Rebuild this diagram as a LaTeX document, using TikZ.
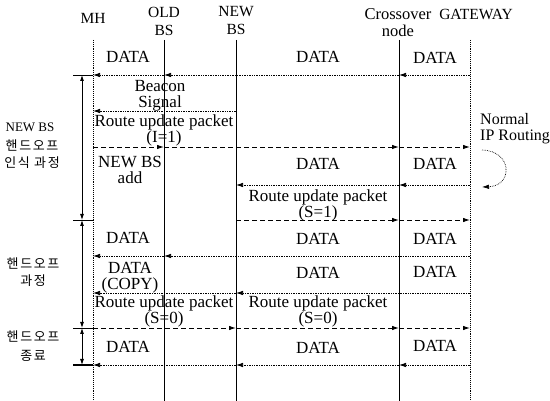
\documentclass[tikz,border=0pt]{standalone}
\usepackage{fontspec}
\setmainfont{Liberation Serif}
\newfontfamily\krfont[LetterSpace=12]{Noto Sans CJK KR}
\usetikzlibrary{arrows.meta}
\begin{document}
\begin{tikzpicture}[x=1pt,y=-1pt,
  lifeline/.style={line width=0.9pt},
  dotline/.style={line width=0.9pt, densely dotted},
  datamsg/.style={line width=0.7pt, densely dotted},
  routemsg/.style={line width=0.9pt, dash pattern=on 5pt off 3pt},
  arr/.style={-{Latex[length=7pt,width=4.5pt]}},
  axisline/.style={line width=0.8pt, {Latex[length=6pt,width=4pt]}-{Latex[length=6pt,width=4pt]}},
  tick/.style={line width=0.8pt},
  hdr/.style={align=center, inner sep=0pt, font=\fontsize{15.5}{18}\selectfont},
  lbl/.style={align=center, inner sep=0pt, font=\fontsize{17}{16}\selectfont},
  side/.style={inner sep=0pt, font=\fontsize{13}{15}\selectfont}]
\useasboundingbox (0,0) rectangle (550,401);

% lifeline heads and the bottom edge
\coordinate (mh)  at (93,40);
\coordinate (obs) at (164,40);
\coordinate (nbs) at (236,40);
\coordinate (cx)  at (399,40);
\coordinate (gw)  at (470,40);
\coordinate (bot) at (0,401);

% message rows
\coordinate (r1) at (0,75);
\coordinate (r2) at (0,111);
\coordinate (r3) at (0,147);
\coordinate (r4) at (0,185);
\coordinate (r5) at (0,220);
\coordinate (r6) at (0,256);
\coordinate (r7) at (0,293);
\coordinate (r8) at (0,328);
\coordinate (r9) at (0,365);

% phase axis
\coordinate (ax) at (82,0);
\coordinate (tk) at (73,0);

% headers
\node[hdr] (hMH)  at (93,18)  {MH};
\node[hdr] (hOBS) at (164,21) {OLD\\BS};
\node[hdr] (hNBS) at (236,21) {NEW\\BS};
\node[hdr, font=\fontsize{16.5}{17}\selectfont] (hCX) at (398,23) {Crossover\\node};
\node[hdr] (hGW)  at (476,14) {GATEWAY};

% lifelines
\draw[dotline]  (mh)  -- (mh |- bot);
\draw[lifeline] (obs) -- (obs |- bot);
\draw[lifeline] (nbs) -- (nbs |- bot);
\draw[lifeline] (cx)  -- (cx |- bot);
\draw[dotline]  (gw)  -- (gw |- bot);

% phase axis with ticks
\draw[axisline] (ax |- r1) -- (ax |- r5);
\draw[axisline] (ax |- r5) -- (ax |- r8);
\draw[axisline] (ax |- r8) -- (ax |- r9);
\draw[tick] (tk |- r1) -- (mh |- r1);
\draw[tick] (tk |- r5) -- (mh |- r5);
\draw[tick] (tk |- r8) -- (mh |- r8);
\draw[tick, line width=1.5pt] (tk |- r9) -- (mh |- r9);

% phase labels
\node[side] (p1a) at (30,127) {NEW BS};
\node[side] (p1b) at (32,146) {\krfont 핸드오프};
\node[side] (p1c) at (32,163) {\krfont 인식 과정};
\node[side] (p2a) at (33,264) {\krfont 핸드오프};
\node[side] (p2b) at (33,281) {\krfont 과정};
\node[side] (p3a) at (33,337) {\krfont 핸드오프};
\node[side] (p3b) at (33,356) {\krfont 종료};

% row 1: data towards the old base station
\draw[datamsg,arr] (gw |- r1) -- (cx |- r1);
\draw[datamsg,arr] (cx |- r1) -- (obs |- r1);
\draw[datamsg,arr] (obs |- r1) -- (mh |- r1);
\node[lbl] (l1a) at (128,57) {DATA};
\node[lbl] (l1b) at (318,57) {DATA};
\node[lbl] (l1c) at (435,58) {DATA};

% row 2: beacon
\draw[datamsg,arr] (nbs |- r2) -- (mh |- r2);
\node[lbl] (l2) at (160,96) {Beacon\\Signal};

% row 3: route update I=1
\draw[routemsg,arr] (mh |- r3) -- (obs |- r3);
\draw[routemsg,arr] (obs |- r3) -- (cx |- r3);
\draw[routemsg,arr] (cx |- r3) -- (gw |- r3);
\node[lbl] (l3) at (164,130) {Route update packet\\(I=1)};

% row 4: data towards the new base station
\node[lbl] (l4a) at (130,170) {NEW BS\\add};
\draw[datamsg,arr] (gw |- r4) -- (cx |- r4);
\draw[datamsg,arr] (cx |- r4) -- (nbs |- r4);
\node[lbl] (l4b) at (318,164) {DATA};
\node[lbl] (l4c) at (435,164) {DATA};

% normal IP routing loop
\coordinate (ipA) at (482,150);
\coordinate (ipB) at (482,187);
\draw[datamsg,arr] (ipA) .. controls (513,151) and (513,186) .. (ipB);
\node[anchor=west, align=left, inner sep=0pt, font=\fontsize{16}{16}\selectfont] (ipl) at (480,129) {Normal\\IP Routing};

% row 5: route update S=1
\draw[routemsg,arr] (nbs |- r5) -- (cx |- r5);
\draw[routemsg,arr] (cx |- r5) -- (gw |- r5);
\node[lbl] (l5) at (318,205) {Route update packet\\(S=1)};

% row 6: data through the old base station
\node[lbl] (l6a) at (128,238) {DATA};
\node[lbl] (l6b) at (318,239) {DATA};
\node[lbl] (l6c) at (435,239) {DATA};
\draw[datamsg,arr] (gw |- r6) -- (obs |- r6);
\draw[datamsg,arr] (obs |- r6) -- (mh |- r6);

% row 7: copied data through the new base station
\node[lbl] (l7a) at (130,278) {DATA\\(COPY)};
\node[lbl] (l7b) at (318,273) {DATA};
\node[lbl] (l7c) at (435,272) {DATA};
\draw[datamsg,arr] (gw |- r7) -- (nbs |- r7);
\draw[datamsg,arr] (nbs |- r7) -- (mh |- r7);

% row 8: route update S=0
\node[lbl] (l8a) at (164,311) {Route update packet\\(S=0)};
\node[lbl] (l8b) at (318,311) {Route update packet\\(S=0)};
\draw[routemsg,arr] (mh |- r8) -- (nbs |- r8);
\draw[routemsg,arr] (nbs |- r8) -- (cx |- r8);
\draw[routemsg,arr] (cx |- r8) -- (gw |- r8);

% row 9: data after handoff
\node[lbl] (l9a) at (128,347) {DATA};
\node[lbl] (l9b) at (318,348) {DATA};
\node[lbl] (l9c) at (435,346) {DATA};
\draw[datamsg,arr] (gw |- r9) -- (cx |- r9);
\draw[datamsg,arr] (cx |- r9) -- (nbs |- r9);
\draw[datamsg,arr] (nbs |- r9) -- (mh |- r9);
\end{tikzpicture}
\end{document}
